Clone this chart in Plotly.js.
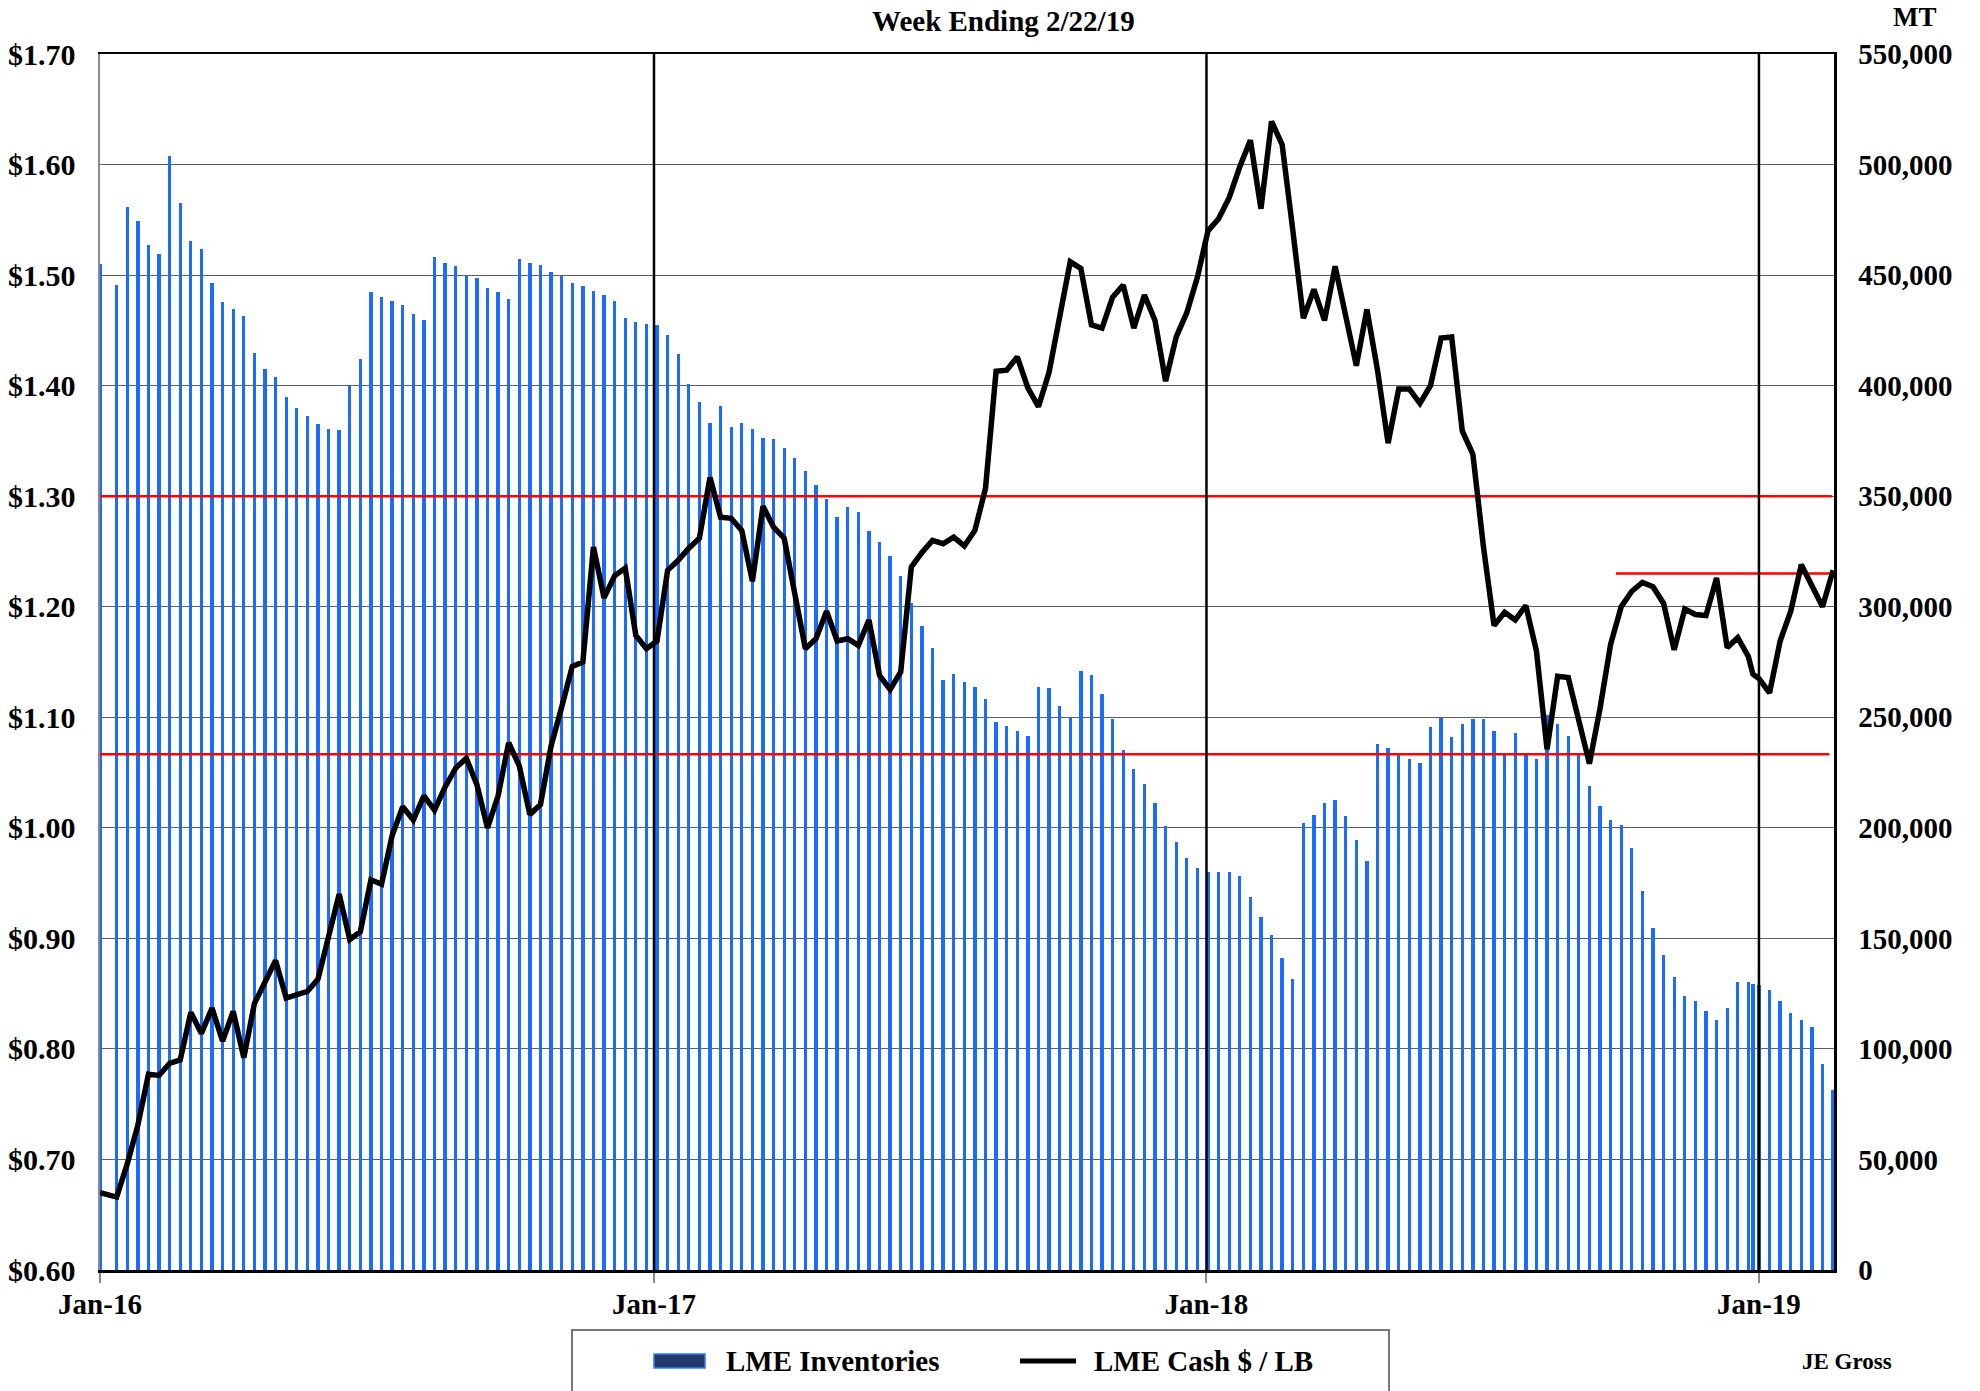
<!DOCTYPE html>
<html>
<head>
<meta charset="utf-8">
<script src="https://cdn.plot.ly/plotly-3.0.1.min.js"></script>
<style>
  html, body { margin: 0; padding: 0; background: #fff; }
  #chart { width: 1980px; height: 1391px; }
</style>
</head>
<body>
<div id="chart"></div>
<script>
// ---- Data ----
const weekDates = [
  '2016-01-01',
  '2016-01-12','2016-01-19','2016-01-26','2016-02-02','2016-02-09','2016-02-16','2016-02-23',
  '2016-03-01','2016-03-08','2016-03-15','2016-03-22','2016-03-29','2016-04-05','2016-04-12',
  '2016-04-19','2016-04-26','2016-05-03','2016-05-10','2016-05-17','2016-05-24','2016-05-31',
  '2016-06-07','2016-06-14','2016-06-21','2016-06-28','2016-07-05',
  '2016-07-12','2016-07-19','2016-07-26','2016-08-02','2016-08-09','2016-08-16','2016-08-23',
  '2016-08-30','2016-09-06','2016-09-13','2016-09-20','2016-09-27','2016-10-04','2016-10-11',
  '2016-10-18','2016-10-25','2016-11-01','2016-11-08','2016-11-15','2016-11-22','2016-11-29',
  '2016-12-06','2016-12-13','2016-12-20','2016-12-27','2017-01-03','2017-01-10','2017-01-17',
  '2017-01-24','2017-01-31','2017-02-07','2017-02-14','2017-02-21','2017-02-28','2017-03-07',
  '2017-03-14','2017-03-21','2017-03-28','2017-04-04','2017-04-11','2017-04-18','2017-04-25',
  '2017-05-02','2017-05-09','2017-05-16','2017-05-23','2017-05-30','2017-06-06','2017-06-13',
  '2017-06-20','2017-06-27','2017-07-04','2017-07-11','2017-07-18','2017-07-25',
  '2017-08-01','2017-08-08','2017-08-15','2017-08-22','2017-08-29','2017-09-05','2017-09-12',
  '2017-09-19','2017-09-26','2017-10-03','2017-10-10','2017-10-17','2017-10-24','2017-10-31',
  '2017-11-07','2017-11-14','2017-11-21','2017-11-28','2017-12-05','2017-12-12','2017-12-19',
  '2017-12-26','2018-01-02','2018-01-09','2018-01-16','2018-01-23','2018-01-30',
  '2018-02-06','2018-02-13','2018-02-20','2018-02-27','2018-03-06','2018-03-13','2018-03-20',
  '2018-03-27','2018-04-03','2018-04-10','2018-04-17','2018-04-24','2018-05-01','2018-05-08',
  '2018-05-15','2018-05-22','2018-05-29','2018-06-05','2018-06-12','2018-06-19','2018-06-26',
  '2018-07-03','2018-07-10','2018-07-17','2018-07-24','2018-07-31','2018-08-07','2018-08-14',
  '2018-08-21','2018-08-28','2018-09-04','2018-09-11','2018-09-18','2018-09-25','2018-10-02',
  '2018-10-09','2018-10-16','2018-10-23','2018-10-30','2018-11-06','2018-11-13','2018-11-20',
  '2018-11-27','2018-12-04','2018-12-11','2018-12-18','2018-12-25','2018-12-28','2019-01-01',
  '2019-01-08','2019-01-15','2019-01-22','2019-01-29','2019-02-05','2019-02-12','2019-02-19'
];

// LME Inventories, metric tonnes
const lmeInventories = [
  455000,
  445500, 480600, 474500, 463700, 459500, 503800, 482700, 465200, 462000, 446600, 438000, 434800, 431500,
  414700, 407600, 404000, 395000, 390000, 386400, 382500, 380400, 380000, 399700, 411900, 442300, 440100,
  438300, 436500, 432600, 429700, 458000, 455500, 454100, 450100, 448700, 444100, 442300, 439100, 457300,
  455500, 454400, 451200, 449400, 446600, 445100, 442600, 441200, 438300, 430500, 428700, 428000, 427600,
  422900, 414400,
  400800, 392500, 383200, 390700, 381400, 382900, 380400, 376400, 375700, 371800, 367100, 361400, 355000,
  348900, 340600, 344900, 342800, 334200, 329500, 323100, 314100, 301600, 291200, 281200, 266900, 269400,
  265800,
  263700, 258300, 248000, 246100, 243600, 241500, 263700, 263300, 255100, 250100, 270800, 269000, 260500,
  249400, 235000, 226500, 219700, 211100, 201000, 193500, 186400, 181700, 179900, 179900, 179900, 178100,
  168800,
  159500, 151700, 140900, 131600, 202100, 205700, 211100, 212500, 205300, 194600, 184900, 237900, 236100,
  233600, 231100, 229300, 245400, 249700, 241100, 246900, 249400, 249000, 243600, 232900, 242900, 234000,
  231100, 251200,
  246900, 241500, 232900, 218900, 210000, 203600, 201400, 190700, 171300, 154900, 142400, 132700, 124100,
  121600, 117300, 113000, 118700, 130200, 130200, 129500, 128800, 126600, 121600, 116200, 113000, 109800,
  93300, 81200
];

// LME Cash, $ / LB
const lmeCash = [
  0.670,
  0.666, 0.696, 0.731, 0.777, 0.776, 0.787, 0.790, 0.833, 0.814, 0.837, 0.807, 0.834, 0.792,
  0.841, 0.862, 0.880, 0.846, 0.849, 0.852, 0.863, 0.902, 0.940, 0.899, 0.906, 0.953, 0.949,
  0.993, 1.019, 1.007, 1.029, 1.016, 1.037, 1.054, 1.063, 1.039, 1.000, 1.029, 1.077, 1.056,
  1.012, 1.021, 1.074, 1.109, 1.146, 1.150, 1.254, 1.208, 1.228, 1.235, 1.174, 1.162, 1.169,
  1.233, 1.242,
  1.253, 1.262, 1.317, 1.281, 1.280, 1.269, 1.223, 1.291, 1.272, 1.262, 1.212, 1.162, 1.171,
  1.196, 1.169, 1.171, 1.165, 1.188, 1.138, 1.125, 1.141, 1.236, 1.249, 1.260, 1.257, 1.263,
  1.255,
  1.269, 1.307, 1.413, 1.414, 1.426, 1.398, 1.381, 1.412, 1.459, 1.512, 1.506, 1.455, 1.452,
  1.480, 1.491, 1.452, 1.482, 1.459, 1.404, 1.444, 1.466, 1.498, 1.540, 1.551, 1.570, 1.598,
  1.622,
  1.560, 1.639, 1.618, 1.541, 1.461, 1.487, 1.459, 1.508, 1.462, 1.418, 1.469, 1.414, 1.348,
  1.397, 1.397, 1.384, 1.400, 1.443, 1.444, 1.359, 1.338, 1.254, 1.183, 1.195, 1.188, 1.201,
  1.160, 1.071,
  1.137, 1.136, 1.097, 1.058, 1.108, 1.166, 1.200, 1.214, 1.222, 1.218, 1.203, 1.161, 1.198,
  1.193, 1.192, 1.226, 1.163, 1.172, 1.155, 1.139, 1.135, 1.122, 1.169, 1.196, 1.238, 1.219,
  1.200, 1.233
];

const yearTicks = ['2016-01-01', '2017-01-01', '2018-01-01', '2019-01-01'];
const yearLines = ['2017-01-01', '2018-01-01', '2019-01-01'];

// Red reference levels ($/LB) and their spans
const refLevels = [1.30, 1.0665, 1.23];
const refStarts = ['2015-12-30', '2015-12-30', '2018-09-28 12:00'];
const refEnds   = ['2019-02-18 05:00', '2019-02-16 12:00', '2019-02-20'];

// ---- Chart ----
const FONT = 'Liberation Serif, Times New Roman, serif';
const DAY = 86400000;

const traces = [
  {
    type: 'bar', name: 'LME Inventories',
    x: weekDates, y: lmeInventories, yaxis: 'y',
    width: 2.2 * DAY,
    marker: { color: '#1a6bff', line: { width: 0 } },
    showlegend: false, hoverinfo: 'x+y'
  }
];
refLevels.forEach((lv, i) => {
  traces.push({
    type: 'scatter', mode: 'lines', yaxis: 'y2',
    x: [refStarts[i], refEnds[i]], y: [lv, lv],
    line: { color: '#ff0000', width: 2.5 },
    showlegend: false, hoverinfo: 'skip'
  });
});
traces.push({
  type: 'scatter', mode: 'lines', name: 'LME Cash $ / LB',
  x: weekDates, y: lmeCash, yaxis: 'y2',
  line: { color: '#000000', width: 5.5 },
  showlegend: false
});

const shapes = yearLines.map(d => ({
  type: 'line', xref: 'x', yref: 'paper', x0: d, x1: d, y0: 0, y1: 1,
  line: { color: '#000', width: 2.5 }, layer: 'above'
}));

// legend box (drawn manually to match the reference)
const px = v => (v - 100) / 1734;      // pixel -> paper x
const py = v => (1270 - v) / 1216;     // pixel -> paper y
shapes.push({ type: 'rect', xref: 'paper', yref: 'paper',
  x0: px(572), x1: px(1389), y0: py(1393), y1: py(1330),
  line: { color: '#777', width: 2 }, fillcolor: 'rgba(0,0,0,0)' });
shapes.push({ type: 'rect', xref: 'paper', yref: 'paper',
  x0: px(654), x1: px(705), y0: py(1368), y1: py(1354),
  line: { color: '#2e7bff', width: 1.5 }, fillcolor: '#22396a' });
shapes.push({ type: 'line', xref: 'paper', yref: 'paper',
  x0: px(1020), x1: px(1076), y0: py(1361), y1: py(1361),
  line: { color: '#000', width: 5 } });

const bold = (size) => ({ family: FONT, size: size, color: '#000', weight: 700 });

const annotations = [
  { text: 'Week Ending 2/22/19', xref: 'paper', yref: 'paper', x: px(1003), y: py(21),
    xanchor: 'center', yanchor: 'middle', showarrow: false, font: bold(29) },
  { text: 'MT', xref: 'paper', yref: 'paper', x: px(1915), y: py(17),
    xanchor: 'center', yanchor: 'middle', showarrow: false, font: bold(27) },
  { text: 'JE Gross', xref: 'paper', yref: 'paper', x: px(1847), y: py(1361),
    xanchor: 'center', yanchor: 'middle', showarrow: false, font: bold(23) },
  { text: 'LME Inventories', xref: 'paper', yref: 'paper', x: px(724), y: py(1361),
    xanchor: 'left', yanchor: 'middle', showarrow: false, font: bold(29) },
  { text: 'LME Cash $ / LB', xref: 'paper', yref: 'paper', x: px(1092), y: py(1361),
    xanchor: 'left', yanchor: 'middle', showarrow: false, font: bold(29) }
];

const layout = {
  width: 1980, height: 1391,
  margin: { l: 100, r: 146, t: 54, b: 121, pad: 0 },
  paper_bgcolor: '#fff', plot_bgcolor: '#fff',
  showlegend: false,
  bargap: 0,
  font: bold(29),
  xaxis: {
    type: 'date',
    range: ['2016-01-01', '2019-02-19 14:00'],
    tickvals: yearTicks, tickformat: '%b-%y',
    ticks: 'outside', ticklen: 10, tickwidth: 2, tickcolor: '#888',
    ticklabelstandoff: -3,
    showline: true, linecolor: '#000', linewidth: 2.5, mirror: true,
    showgrid: false, zeroline: false,
    tickfont: bold(29)
  },
  yaxis: {
    side: 'right',
    range: [0, 550000], dtick: 50000, tickformat: ',d',
    showgrid: true, gridcolor: '#606060', gridwidth: 1,
    showline: true, linecolor: '#000', linewidth: 2.5,
    ticks: '', ticklabelstandoff: 16, zeroline: false,
    tickfont: bold(29)
  },
  yaxis2: {
    overlaying: 'y', side: 'left',
    range: [0.6, 1.7], dtick: 0.1, tickformat: '$.2f',
    showgrid: false, showline: true, linecolor: '#8a8a8a', linewidth: 2.5,
    ticks: '', ticklabelstandoff: 16, zeroline: false,
    tickfont: bold(30)
  },
  shapes: shapes,
  annotations: annotations
};

Plotly.newPlot('chart', traces, layout, { staticPlot: true, displayModeBar: false });
</script>
</body>
</html>
